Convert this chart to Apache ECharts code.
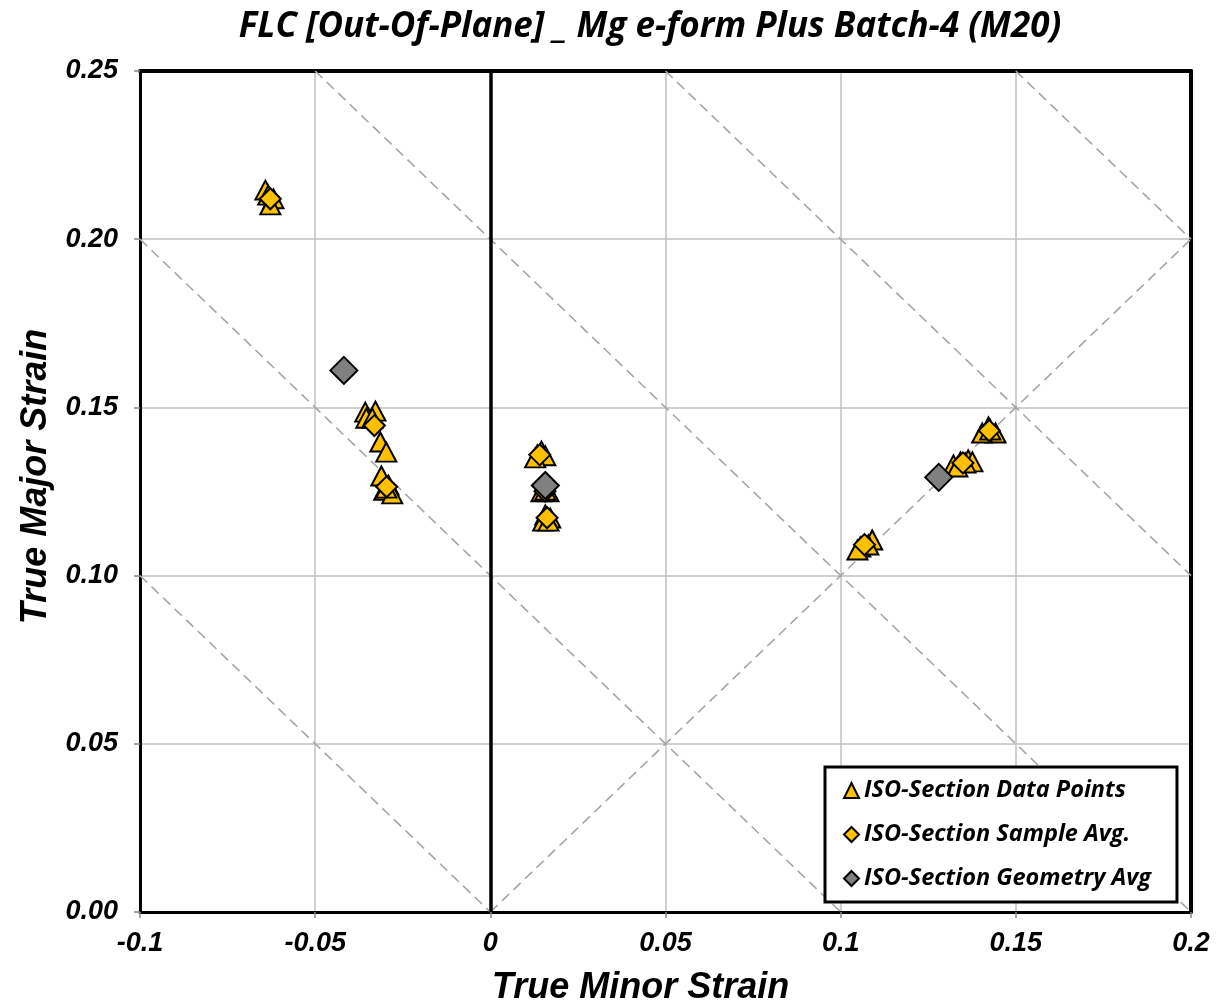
<!DOCTYPE html>
<html>
<head>
<meta charset="utf-8">
<script src="https://cdn.jsdelivr.net/npm/echarts@6/dist/echarts.min.js"></script>
<style>
  html, body { margin: 0; padding: 0; background: #fff; }
  #chart { width: 1218px; height: 1008px; }
</style>
</head>
<body>
<div id="chart"></div>
<script>
// axis ranges
const xMin = -0.1, xMax = 0.2, xStep = 0.05;
const yMin = 0, yMax = 0.25, yStep = 0.05;

// ISO-section individual measurements [minor, major]
const isoDataPoints = [
  [-0.0642, 0.2146], [-0.0634, 0.2131], [-0.0619, 0.2120], [-0.0628, 0.2102],
  [-0.0357, 0.1486], [-0.0328, 0.1489], [-0.0354, 0.1468], [-0.0337, 0.1468],
  [-0.0314, 0.1397], [-0.0297, 0.1367],
  [-0.0311, 0.1296], [-0.0291, 0.1269], [-0.0303, 0.1254], [-0.0280, 0.1243], [-0.0297, 0.1260],
  [0.0134, 0.1359], [0.0146, 0.1370], [0.0157, 0.1356], [0.0128, 0.1350],
  [0.0146, 0.1249], [0.0166, 0.1249], [0.0157, 0.1254],
  [0.0157, 0.1180], [0.0171, 0.1171], [0.0151, 0.1162], [0.0166, 0.1162],
  [0.1056, 0.1085], [0.1090, 0.1106], [0.1079, 0.1091], [0.1048, 0.1076],
  [0.1322, 0.1329], [0.1364, 0.1344], [0.1376, 0.1338], [0.1342, 0.1338], [0.1356, 0.1335], [0.1333, 0.1323],
  [0.1422, 0.1442], [0.1442, 0.1424], [0.1404, 0.1424], [0.1427, 0.1433]
];

// per-sample averages
const sampleAvg = [
  [-0.0628, 0.2120], [-0.0331, 0.1446], [-0.0296, 0.1264],
  [0.0141, 0.1359], [0.0156, 0.1251], [0.0162, 0.1172],
  [0.1068, 0.1092], [0.1349, 0.1335], [0.1424, 0.1431]
];

// per-geometry averages
const geometryAvg = [
  [-0.0418, 0.1610], [0.0157, 0.1268], [0.1280, 0.1292]
];

// reference strain paths (dashed)
const refLines = [
  [[-0.1, 0.1], [0, 0]],
  [[-0.1, 0.2], [0.1, 0]],
  [[-0.05, 0.25], [0.2, 0]],
  [[0.05, 0.25], [0.2, 0.1]],
  [[0.15, 0.25], [0.2, 0.2]],
  [[0, 0], [0.2, 0.2]]
];
const zeroLine = [[0, 0], [0, 0.25]];

const legendNames = ['ISO-Section Data Points', 'ISO-Section Sample Avg.', 'ISO-Section Geometry Avg'];

const chart = echarts.init(document.getElementById('chart'));
const axisFont = { fontFamily: 'Liberation Sans, Arial', fontWeight: 'bold', fontStyle: 'italic', color: '#000' };
const frameAxis = {
  axisLine: { show: true, onZero: false, lineStyle: { color: '#000', width: 4 } },
  axisTick: { show: false }, axisLabel: { show: false }, splitLine: { show: false }
};

const option = {
  animation: false,
  backgroundColor: '#fff',
  title: {
    text: 'FLC [Out-Of-Plane] _ Mg e-form Plus Batch-4 (M20)',
    left: 645, top: 5, textAlign: 'center',
    textStyle: { fontFamily: 'Open Sans', fontWeight: 'bold', fontStyle: 'italic', fontSize: 35, color: '#000' }
  },
  grid: { left: 140, right: 27, top: 71, bottom: 96, containLabel: false, outerBoundsMode: 'none' },
  legend: {
    orient: 'vertical',
    left: 825, top: 767,
    padding: [10, 22, 10, 18],
    itemGap: 17,
    itemWidth: 15, itemHeight: 15,
    backgroundColor: '#fff',
    borderColor: '#000', borderWidth: 3,
    data: legendNames,
    textStyle: { fontFamily: 'Open Sans', fontWeight: 'bold', fontStyle: 'italic', fontSize: 23.5, color: '#000', padding: [0, 4, 0, 0], lineHeight: 27 }
  },
  xAxis: [{
    type: 'value', min: xMin, max: xMax, interval: xStep,
    name: 'True Minor Strain', nameLocation: 'middle', nameGap: 58,
    nameTextStyle: Object.assign({ fontSize: 36, padding: [0, 50, 0, 0] }, axisFont),
    axisLine: { show: true, onZero: false, lineStyle: { color: '#000', width: 3 } },
    axisTick: { show: true, length: 6, lineStyle: { color: '#888', width: 1.5 } },
    axisLabel: Object.assign({
      fontSize: 27, margin: 18,
      formatter: v => { const s = parseFloat(v.toFixed(3)); return s === 0 ? '0' : String(s); }
    }, axisFont),
    splitLine: { show: true, lineStyle: { color: '#c0c0c0', width: 1.5 } }
  }, Object.assign({ type: 'value', position: 'top', min: xMin, max: xMax }, frameAxis)],
  yAxis: [{
    type: 'value', min: yMin, max: yMax, interval: yStep,
    name: 'True Major Strain', nameLocation: 'middle', nameGap: 84,
    nameTextStyle: Object.assign({ fontSize: 36, padding: [0, 0, 0, 30] }, axisFont),
    axisLine: { show: true, onZero: false, lineStyle: { color: '#000', width: 3 } },
    axisTick: { show: true, length: 6, lineStyle: { color: '#888', width: 1.5 } },
    axisLabel: Object.assign({ fontSize: 27, margin: 22, formatter: v => v.toFixed(2) }, axisFont),
    splitLine: { show: true, lineStyle: { color: '#c0c0c0', width: 1.5 } }
  }, Object.assign({ type: 'value', position: 'right', min: yMin, max: yMax }, frameAxis)],
  series: [
    {
      type: 'lines', coordinateSystem: 'cartesian2d', silent: true, z: 1,
      lineStyle: { color: '#a6a6a6', width: 1.6, type: [10, 6], opacity: 1 },
      data: refLines.map(c => ({ coords: c }))
    },
    {
      type: 'lines', coordinateSystem: 'cartesian2d', silent: true, z: 1,
      lineStyle: { color: '#000', width: 3.5, opacity: 1 },
      data: [{ coords: zeroLine }]
    },
    {
      name: legendNames[0], type: 'scatter', z: 3,
      symbol: 'triangle', symbolSize: [20, 19],
      itemStyle: { color: '#FFC000', borderColor: '#000', borderWidth: 2, opacity: 1 },
      data: isoDataPoints
    },
    {
      name: legendNames[1], type: 'scatter', z: 4,
      symbol: 'diamond', symbolSize: [21, 21],
      itemStyle: { color: '#FFC000', borderColor: '#000', borderWidth: 2, opacity: 1 },
      data: sampleAvg
    },
    {
      name: legendNames[2], type: 'scatter', z: 5,
      symbol: 'diamond', symbolSize: [27, 27],
      itemStyle: { color: '#808080', borderColor: '#000', borderWidth: 2, opacity: 1 },
      data: geometryAvg
    }
  ]
};
chart.setOption(option);
</script>
</body>
</html>
